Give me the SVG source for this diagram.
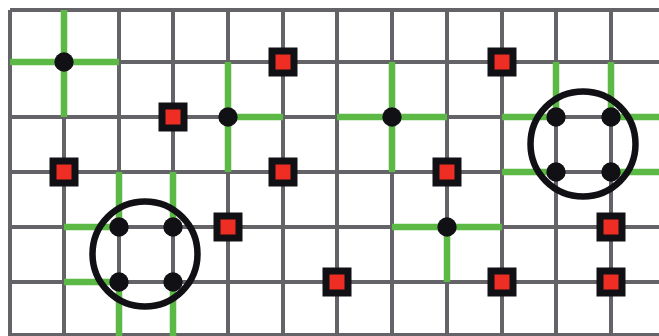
<svg xmlns="http://www.w3.org/2000/svg" width="659" height="336" viewBox="0 0 659 336">
<style>
.g{stroke:#646468;stroke-width:4;fill:none}
.gr{stroke:#5cb946;stroke-width:6.5;fill:none}
.dot{fill:#111014}
.ring{fill:none;stroke:#111014;stroke-width:6.5}
.sqo{fill:#111014}
.sqi{fill:#ee2e24}
</style>
<defs>
<g id="sq"><rect class="sqo" x="-14.5" y="-14.5" width="29" height="29"/><rect class="sqi" x="-7.5" y="-7.5" width="15" height="15"/></g>
</defs>
<rect width="659" height="336" fill="#ffffff"/>
<g id="grid" class="g">
<path d="M10,10H659M10,62H659M10,117H659M10,172H659M10,227H659M10,282H659M10,335H659"/>
<path d="M10,10V336M64,10V336M119,10V336M173,10V336M228,10V336M283,10V336M337,10V336M392,10V336M447,10V336M502,10V336M556,10V336M611,10V336"/>
</g>
<g id="connectors" class="gr">
<path d="M10,62H119M64,10V117"/>
<path d="M228,62V172M228,117H283"/>
<path d="M392,62V172M337,117H447"/>
<path d="M447,227V282M392,227H502"/>
<path d="M502,117H556M611,117H659M502,172H556M611,172H659M556,62V117M611,62V117"/>
<path d="M64,227H119M64,282H119M119,172V227M173,172V227M119,282V336M173,282V336"/>
</g>
<g id="ring1">
<circle class="ring" cx="145" cy="254" r="52.5"/>
<circle class="dot" cx="119" cy="227" r="9.7"/>
<circle class="dot" cx="173" cy="227" r="9.7"/>
<circle class="dot" cx="119" cy="282" r="9.7"/>
<circle class="dot" cx="173" cy="282" r="9.7"/>
</g>
<g id="ring2">
<circle class="ring" cx="583" cy="144" r="52.5"/>
<circle class="dot" cx="556" cy="117" r="9.7"/>
<circle class="dot" cx="611" cy="117" r="9.7"/>
<circle class="dot" cx="556" cy="172" r="9.7"/>
<circle class="dot" cx="611" cy="172" r="9.7"/>
</g>
<g id="dot1"><circle class="dot" cx="64" cy="62" r="9.7"/></g>
<g id="dot2"><circle class="dot" cx="228" cy="117" r="9.7"/></g>
<g id="dot3"><circle class="dot" cx="392" cy="117" r="9.7"/></g>
<g id="dot4"><circle class="dot" cx="447" cy="227" r="9.7"/></g>
<g id="sq1"><use href="#sq" x="173" y="117"/></g>
<g id="sq2"><use href="#sq" x="283" y="62"/></g>
<g id="sq3"><use href="#sq" x="502" y="62"/></g>
<g id="sq4"><use href="#sq" x="64" y="172"/></g>
<g id="sq5"><use href="#sq" x="283" y="172"/></g>
<g id="sq6"><use href="#sq" x="447" y="172"/></g>
<g id="sq7"><use href="#sq" x="228" y="227"/></g>
<g id="sq8"><use href="#sq" x="611" y="227"/></g>
<g id="sq9"><use href="#sq" x="337" y="282"/></g>
<g id="sq10"><use href="#sq" x="502" y="282"/></g>
<g id="sq11"><use href="#sq" x="611" y="282"/></g>
</svg>
